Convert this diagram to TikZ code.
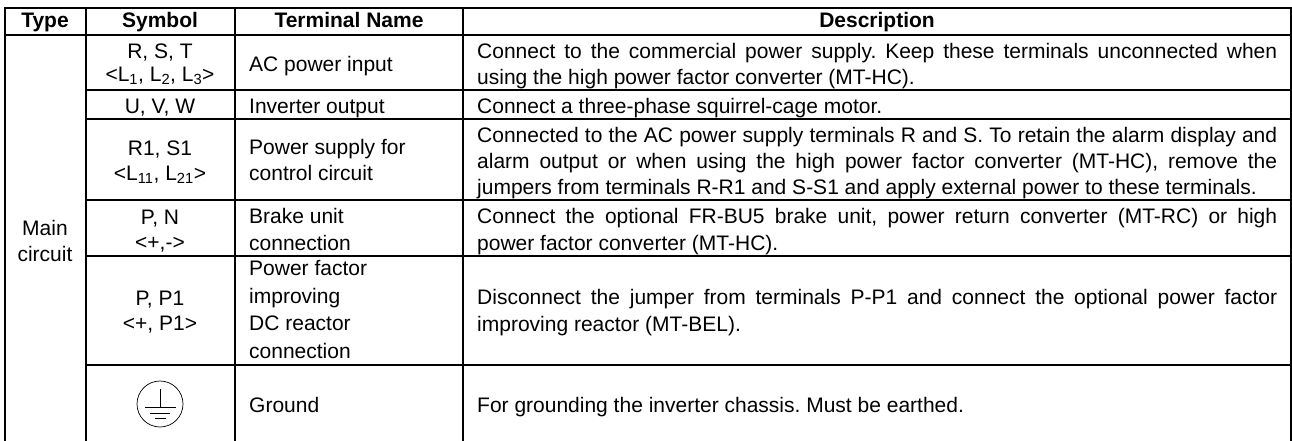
\documentclass[tikz,border=0pt]{standalone}
\usepackage{fontspec}
\setmainfont{Liberation Sans}
\frenchspacing
\newcommand{\jl}[1]{\makebox[800pt][s]{#1}}
\newcommand{\fs}[1]{\fontsize{21}{#1}\selectfont}
\tikzset{x=1pt,y=-1pt,
 grid/.style={line width=2pt,black},
 thin sym/.style={line width=0.7pt,black},
 txt/.style={inner sep=0pt,font=\fs{26},
   execute at begin node={\rule{0pt}{15pt}},
   execute at end node={\rule[-5pt]{0pt}{5pt}}},
 head/.style={inner sep=0pt,font=\fs{26}\bfseries,anchor=base},
 cen/.style={txt,align=center,anchor=north},
 lft/.style={txt,align=left,anchor=north west}}
\begin{document}
\begin{tikzpicture}
\useasboundingbox (0,0) rectangle (1292,441);
\draw[grid] (5,441) -- (5,8) -- (1291,8) -- (1291,441);
\foreach \y in {90,119,200,256,365}{\draw[grid] (86,\y) -- (1291,\y);}
\draw[grid] (5,35) -- (1291,35);
\foreach \x in {86,235,463}{\draw[grid] (\x,8) -- (\x,441);}
\node[head] (h1) at (45,28) {Type};
\node[head] (h2) at (160,28) {Symbol};
\node[head] (h3) at (349,28) {Terminal Name};
\node[head] (h4) at (877,28) {Description};
\node[cen] (t1) at (45,220) {Main\\circuit};
\node[cen,font=\fs{23}] (s1) at (160,44) {R, S, T\\<L\textsubscript{1}, L\textsubscript{2}, L\textsubscript{3}>};
\node[cen] (s2) at (160,98) {U, V, W};
\node[cen,font=\fs{24.5}] (s3) at (160,141) {R1, S1\\<L\textsubscript{11}, L\textsubscript{21}>};
\node[cen,font=\fs{24.5}] (s4) at (160,210) {P, N\\<+,->};
\node[cen,font=\fs{25}] (s5) at (160,291) {P, P1\\<+, P1>};
\node[lft] (n1) at (249,56) {AC power input};
\node[lft] (n2) at (249,98) {Inverter output};
\node[lft] (n3) at (249,139) {Power supply for\\control circuit};
\node[lft,font=\fs{27}] (n4) at (249,208) {Brake unit\\connection};
\node[lft,font=\fs{27.7}] (n5) at (249,260) {Power factor\\improving\\DC reactor\\connection};
\node[lft] (n6) at (249,397) {Ground};
\node[lft] (d1) at (477,43) {\jl{Connect to the commercial power supply. Keep these terminals unconnected when}\\using the high power factor converter (MT-HC).};
\node[lft] (d2) at (477,98) {Connect a three-phase squirrel-cage motor.};
\node[lft] (d3) at (477,127) {\jl{Connected to the AC power supply terminals R and S. To retain the alarm display and}\\\jl{alarm output or when using the high power factor converter (MT-HC), remove the}\\jumpers from terminals R-R1 and S-S1 and apply external power to these terminals.};
\node[lft,font=\fs{27}] (d4) at (477,208) {\jl{Connect the optional FR-BU5 brake unit, power return converter (MT-RC) or high}\\power factor converter (MT-HC).};
\node[lft,font=\fs{27}] (d5) at (477,289) {\jl{Disconnect the jumper from terminals P-P1 and connect the optional power factor}\\improving reactor (MT-BEL).};
\node[lft] (d6) at (477,397) {For grounding the inverter chassis. Must be earthed.};
\node[draw,circle,thin sym,minimum size=46pt,inner sep=0pt] (g) at (160,404) {};
\draw[thin sym] (160,389) -- (160,407);
\draw[thin sym] (145,407) -- (176,407);
\draw[thin sym] (150,413) -- (170,413);
\draw[thin sym] (155,418) -- (166,418);
\end{tikzpicture}
\end{document}
